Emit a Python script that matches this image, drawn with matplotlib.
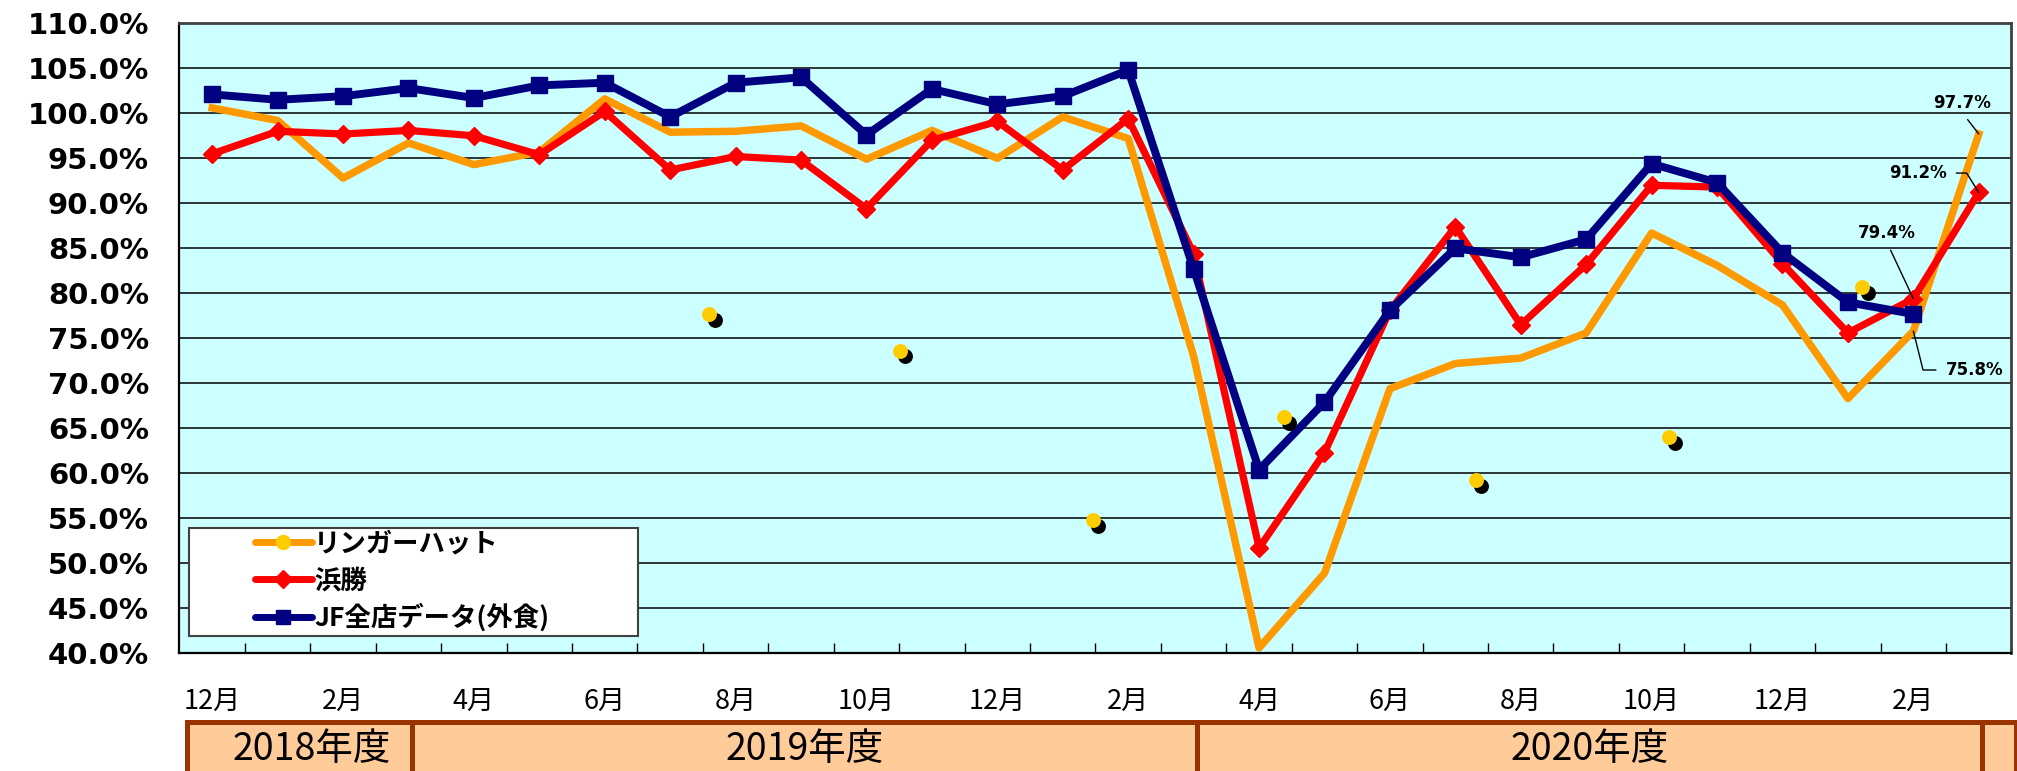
import matplotlib
matplotlib.use('Agg')
import matplotlib.pyplot as plt
import matplotlib.transforms as mtransforms
from matplotlib.lines import Line2D
from matplotlib.patches import Rectangle
import numpy as np

plt.rcParams['font.family'] = ['DejaVu Sans', 'Noto Sans CJK JP']

# --- data (Dec 2018 .. Mar 2021, year-on-year %) ---
months = ['12月', '1月', '2月', '3月', '4月', '5月', '6月', '7月', '8月', '9月', '10月', '11月',
          '12月', '1月', '2月', '3月', '4月', '5月', '6月', '7月', '8月', '9月', '10月', '11月',
          '12月', '1月', '2月', '3月']
fiscal_years = ['2018年度', '2019年度', '2020年度', '']

ringer = [100.6, 99.2, 92.8, 96.7, 94.3, 95.7, 101.6, 97.9, 98.0, 98.6, 94.9, 98.1, 95.0, 99.6,
          97.2, 73.0, 40.6, 48.9, 69.4, 72.2, 72.8, 75.6, 86.7, 83.1, 78.7, 68.3, 75.8, 97.7]
hamakatsu = [95.5, 98.0, 97.7, 98.1, 97.5, 95.4, 100.2, 93.7, 95.2, 94.8, 89.4, 97.0, 99.1, 93.7,
             99.4, 84.4, 51.7, 62.3, 78.1, 87.4, 76.5, 83.2, 92.0, 91.8, 83.3, 75.6, 79.4, 91.2]
jf = [102.1, 101.5, 101.9, 102.8, 101.7, 103.1, 103.4, 99.6, 103.4, 104.0, 97.6, 102.7, 101.0, 101.9,
      104.8, 82.7, 60.4, 67.9, 78.1, 85.0, 84.0, 86.0, 94.4, 92.3, 84.5, 79.0, 77.7]

# stray yellow markers left in the original sheet
dot_pos = [7.60, 10.51, 13.46, 16.38, 19.31, 22.27, 25.22]
dot_val = [77.7, 73.6, 54.8, 66.2, 59.2, 64.0, 80.7]

labels = ['リンガーハット', '浜勝', 'JF全店データ(外食)']
c_orange, c_red, c_navy, c_yellow = '#FF9900', '#FF0000', '#000080', '#FFCC00'

fig = plt.figure(figsize=(20.17, 7.71), dpi=100)
ax = fig.add_axes([0.08899, 0.15266, 0.99727 - 0.08899, 0.96978 - 0.15266])
ax.set_facecolor('#CCFFFF')

x = np.arange(len(months))
ax.plot(x, ringer, color=c_orange, lw=5.4, zorder=2)
ax.plot(x, hamakatsu, color=c_red, lw=5.2, marker='D', ms=9.5, zorder=3)
ax.plot(x[:len(jf)], jf, color=c_navy, lw=5.7, marker='s', ms=11, zorder=4)

shadow = ax.transData + mtransforms.ScaledTranslation(4 / 72, -4 / 72, fig.dpi_scale_trans)
ax.scatter(dot_pos, dot_val, s=115, color='black', transform=shadow, zorder=6, lw=0)
ax.scatter(dot_pos, dot_val, s=115, color=c_yellow, zorder=7, lw=0)

# axes
ax.set_xlim(-0.5, len(months) - 0.5)
ax.set_ylim(40, 110)
ax.set_yticks(np.arange(40, 110.1, 5))
ax.set_yticklabels([f'{v:.1f}%' for v in np.arange(40, 110.1, 5)],
                   fontsize=21, fontweight='bold', family='DejaVu Sans')
ax.tick_params(axis='y', length=0, pad=22)
ax.yaxis.grid(True, color='black', lw=1.1)
ax.set_axisbelow(True)

ax.set_xticks(x[::2])
ax.set_xticklabels(months[::2], fontsize=19.5, family='Noto Sans CJK JP')
ax.set_xticks(x[:-1] + 0.5, minor=True)
ax.tick_params(axis='x', which='major', length=0, pad=25)
ax.tick_params(axis='x', which='minor', direction='in', length=7, width=1, color='black')

for s in ['left', 'bottom']:
    ax.spines[s].set_color('black')
    ax.spines[s].set_linewidth(1.6)
for s in ['top', 'right']:
    ax.spines[s].set_color('#404040')
    ax.spines[s].set_linewidth(2)

# value labels with leader lines
lab_font = dict(fontsize=12, fontweight='bold', family='DejaVu Sans', ha='center', va='center')
ax.annotate(f'{ringer[-1]:.1f}%', (x[-1], ringer[-1]), xytext=(-12, 22), textcoords='offset points',
            arrowprops=dict(arrowstyle='-', color='black', lw=1, shrinkA=4, shrinkB=0,
                            relpos=(0.5, 0)), zorder=8, **lab_font)
ax.annotate(f'{hamakatsu[-1]:.1f}%', (x[-1], hamakatsu[-1]), xytext=(-44, 14), textcoords='offset points',
            arrowprops=dict(arrowstyle='-', color='black', lw=1, shrinkA=5, shrinkB=0, relpos=(1, 0.5),
                            connectionstyle='angle,angleA=0,angleB=122,rad=0'), zorder=8, **lab_font)
ax.annotate(f'{hamakatsu[-2]:.1f}%', (x[-2], hamakatsu[-2]), xytext=(-19, 47), textcoords='offset points',
            arrowprops=dict(arrowstyle='-', color='black', lw=1, shrinkA=4, shrinkB=0,
                            relpos=(0.5, 0)), zorder=8, **lab_font)
ax.annotate(f'{ringer[-2]:.1f}%', (x[-2], ringer[-2]), xytext=(44, -28), textcoords='offset points',
            arrowprops=dict(arrowstyle='-', color='black', lw=1, shrinkA=5, shrinkB=0, relpos=(0, 0.5),
                            connectionstyle='angle,angleA=0,angleB=104,rad=0'), zorder=8, **lab_font)

# legend with its own frame
ax.add_patch(Rectangle((0.00535, 0.02746), 0.245, 0.1719, transform=ax.transAxes,
                       fc='white', ec='#404040', lw=1.5, zorder=8))
handles = [
    Line2D([], [], color=c_orange, lw=5, marker='o', ms=10, mfc=c_yellow, mec=c_yellow, solid_capstyle='round'),
    Line2D([], [], color=c_red, lw=5, marker='D', ms=9, solid_capstyle='round'),
    Line2D([], [], color=c_navy, lw=5, marker='s', ms=10, solid_capstyle='round'),
]
leg = ax.legend(handles, labels, loc='center left', bbox_to_anchor=(0.0412, 0.1143), frameon=False,
                prop={'family': 'Noto Sans CJK JP', 'weight': 'bold', 'size': 19},
                handlelength=2.15, handletextpad=0.1, labelspacing=0.36, borderpad=0, borderaxespad=0)
leg.set_zorder(9)

# fiscal-year band under the month labels
band = mtransforms.blended_transform_factory(ax.transData, fig.transFigure)
march = [i for i, m in enumerate(months) if m == '3月']
edges = [-0.39] + [m + 0.05 for m in march] + [len(months) - 0.43]
for fy, lo, hi in zip(fiscal_years, edges[:-1], edges[1:]):
    ax.add_patch(Rectangle((lo, -0.05), hi - lo, 0.1142, transform=band, fc='#FFCC99',
                           ec='#993300', lw=3.6, clip_on=False, zorder=1))
    if fy:
        ax.text((max(lo, 0) + hi) / 2, 0.0285, fy, transform=band, ha='center', va='center',
                fontsize=27, family='Noto Sans CJK JP', clip_on=False)

fig.savefig('out.png', dpi=100)
